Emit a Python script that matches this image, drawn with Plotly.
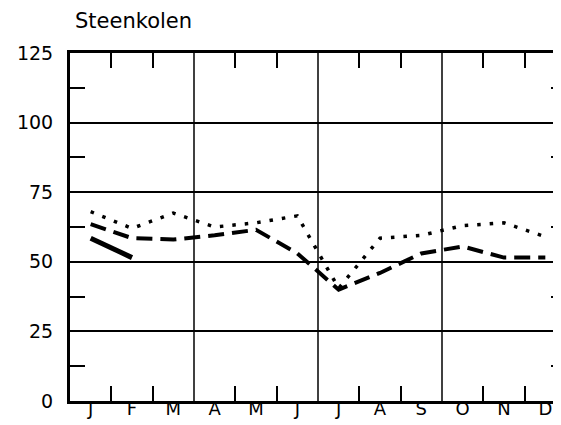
import plotly.graph_objects as go

months = ["J", "F", "M", "A", "M", "J", "J", "A", "S", "O", "N", "D"]
x_pos = [i + 0.5 for i in range(12)]

dotted_vals = [68, 62, 67.5, 62.5, 64, 66.5, 40.5, 58.5, 59.5, 63, 64, 59]
dashed_vals = [63.5, 58.5, 58, 59.5, 61.5, 53, 40, 46, 53, 55.5, 51.5, 51.5]
solid_vals = [58.5, 51.5]

y_ticks = [0, 25, 50, 75, 100, 125]
y_minor = [12.5, 37.5, 62.5, 87.5, 112.5]
x_minor = [1, 2, 4, 5, 7, 8, 10, 11]
x_grid = [3, 6, 9]

fig = go.Figure()
fig.add_trace(go.Scatter(x=x_pos, y=dotted_vals, mode="lines",
                         line=dict(color="black", width=3.5, dash="3.5px,9px"),
                         showlegend=False))
fig.add_trace(go.Scatter(x=x_pos, y=dashed_vals, mode="lines",
                         line=dict(color="black", width=4, dash="16px,8px"),
                         showlegend=False))
fig.add_trace(go.Scatter(x=x_pos[:2], y=solid_vals, mode="lines",
                         line=dict(color="black", width=5),
                         showlegend=False))
# invisible trace to activate the mirrored tick axes
fig.add_trace(go.Scatter(x=[x_pos[0]], y=[dotted_vals[0]], xaxis="x2", yaxis="y2",
                         mode="markers", marker=dict(opacity=0), hoverinfo="skip",
                         showlegend=False))

for g in x_grid:
    fig.add_shape(type="line", xref="x", yref="y", x0=g, x1=g, y0=0, y1=125,
                  line=dict(color="black", width=1.5), layer="below")

tick_style = dict(ticks="inside", ticklen=15, tickwidth=1.5, tickcolor="black")

fig.update_layout(
    width=561, height=425,
    margin=dict(l=62, r=3, t=45, b=32),
    paper_bgcolor="white", plot_bgcolor="white",
    font=dict(family="DejaVu Sans", color="black", size=19),
    xaxis=dict(range=[0, 12], tickmode="array", tickvals=x_pos, ticktext=months,
               ticks="", showgrid=False, zeroline=False, automargin=False,
               showline=True, linewidth=3, linecolor="black", mirror=True,
               tickfont=dict(size=18), ticklabelstandoff=-11,
               minor=dict(tickmode="array", tickvals=x_minor, showgrid=False, **tick_style)),
    yaxis=dict(range=[0, 125], tickmode="array", tickvals=y_ticks,
               ticks="", showgrid=True, gridcolor="black", gridwidth=1.5,
               zeroline=False, showline=True, linewidth=3, linecolor="black",
               mirror=True, tickfont=dict(size=19), ticklabelstandoff=10,
               automargin=False,
               minor=dict(tickmode="array", tickvals=y_minor, showgrid=False, **tick_style)),
    xaxis2=dict(range=[0, 12], overlaying="x", side="top", tickmode="array",
                tickvals=x_minor, showticklabels=False, showgrid=False,
                zeroline=False, automargin=False, **tick_style),
    yaxis2=dict(range=[0, 125], overlaying="y", side="right", tickmode="array",
                tickvals=y_minor, showticklabels=False, showgrid=False,
                zeroline=False, automargin=False, **tick_style),
    annotations=[dict(text="Steenkolen", xref="paper", yref="paper", x=0, y=1,
                      xshift=3, yshift=18, xanchor="left", yanchor="bottom",
                      showarrow=False, font=dict(size=21, color="black"))],
)

fig.write_html("out.html")
